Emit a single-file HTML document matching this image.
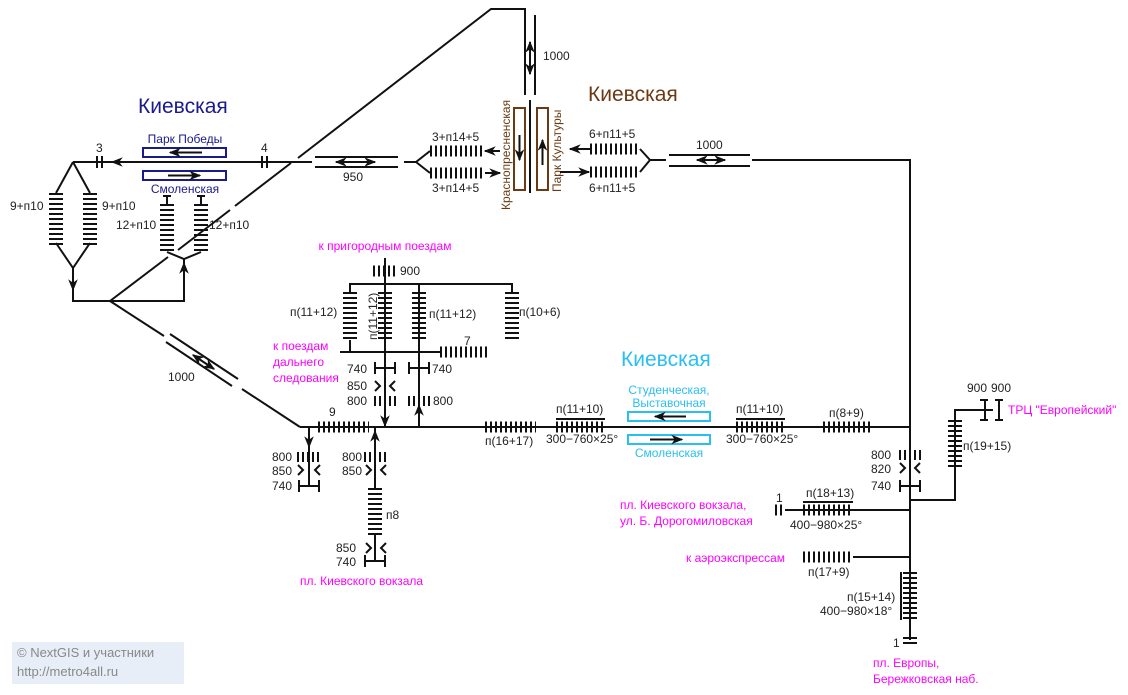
<!DOCTYPE html>
<html><head><meta charset="utf-8"><style>
body{margin:0;background:#fff}
svg{display:block}
text{font-family:"Liberation Sans","DejaVu Sans",sans-serif;font-size:12px;fill:#222}
.m{fill:#f0f}
.l{stroke:#111;stroke-width:2;fill:none}
.h{stroke:#111;stroke-width:11;stroke-dasharray:2 3;fill:none}
.v{stroke:#111;stroke-width:14;stroke-dasharray:2 3;fill:none}
</style></head><body>
<svg width="1128" height="695" viewBox="0 0 1128 695">
<defs>
<marker id="a" viewBox="0 0 10 10" refX="9" refY="5" markerWidth="6" markerHeight="6" orient="auto-start-reverse"><path d="M0,1 L10,5 L0,9 L3,5z" fill="#111"/></marker>
</defs>
<rect x="12" y="642" width="172" height="42" fill="#e8eef8"/>
<text x="17" y="657" style="fill:#888;font-size:13px">© NextGIS и участники</text>
<text x="17" y="676" style="fill:#888;font-size:13px">http://metro4all.ru</text>

<text x="138" y="113" style="font-size:21px;fill:#1a1a8c">Киевская</text>
<text x="588" y="101" style="font-size:21px;fill:#6b3a14">Киевская</text>
<text x="621" y="366" style="font-size:21px;fill:#29bff0">Киевская</text>

<line class="l" x1="73" y1="162" x2="298" y2="162"/>
<line class="l" x1="160" y1="162" x2="112" y2="162" marker-end="url(#a)"/>
<path class="l" d="M97,156v12M102,156v12M262,156v12M267,156v12"/>
<text x="96" y="152">3</text><text x="261" y="152">4</text>
<rect x="143" y="148" width="83" height="9" fill="none" stroke="#1a1a8c" stroke-width="2"/>
<rect x="143" y="171" width="83" height="9" fill="none" stroke="#1a1a8c" stroke-width="2"/>
<line class="l" x1="202" y1="152.5" x2="170" y2="152.5" marker-end="url(#a)"/>
<line class="l" x1="168" y1="175.5" x2="200" y2="175.5" marker-end="url(#a)"/>
<text x="185" y="143" text-anchor="middle" style="fill:#1a1a8c">Парк Победы</text>
<text x="185" y="193" text-anchor="middle" style="fill:#1a1a8c">Смоленская</text>

<path class="l" d="M73,162 L56,193 M73,162 L90,193 M56,243 L73,268 L90,243 M73,268 V301 H184 V259"/>
<line class="l" x1="73" y1="270" x2="73" y2="290" marker-end="url(#a)"/>
<line class="v" x1="56" y1="193" x2="56" y2="245"/>
<line class="v" x1="90" y1="193" x2="90" y2="245"/>
<text x="10" y="210">9+п10</text><text x="102" y="210">9+п10</text>
<path class="l" d="M163,196h8M167,196v8M197,196h8M201,196v8M167,252 L184,259 L201,252"/>
<line class="v" x1="167" y1="204" x2="167" y2="253"/>
<line class="v" x1="201" y1="204" x2="201" y2="253"/>
<line class="l" x1="184" y1="298" x2="184" y2="263" marker-end="url(#a)"/>
<text x="116" y="229">12+п10</text><text x="209" y="229">12+п10</text>
<path class="l" d="M110,301 L168,257 M178,250 L230,210 M235,206 L291,163 M298,158 L491,9 H525 V15"/>
<path class="l" d="M110,301 L164,336 M170,334 L238,379 M166,342 L232,386 M242,389 L300,427"/>
<path d="M193,355 L214,369" stroke="#111" stroke-width="2" marker-end="url(#a)" marker-start="url(#a)"/>
<text x="168" y="381">1000</text>
<path class="l" d="M298,162 H312 M315,157 H398 M315,167 H398 M404,162 H416 L430,151 M416,162 L430,173"/>
<path d="M336,162 L375,162" stroke="#111" stroke-width="2" marker-end="url(#a)" marker-start="url(#a)"/>
<text x="343" y="181">950</text>
<line class="h" x1="430" y1="151" x2="484" y2="151"/>
<line class="h" x1="430" y1="173" x2="484" y2="173"/>
<line class="l" x1="500" y1="151" x2="485" y2="151" marker-end="url(#a)"/>
<line class="l" x1="485" y1="173" x2="500" y2="173" marker-end="url(#a)"/>
<text x="432" y="141">3+п14+5</text><text x="432" y="192">3+п14+5</text>
<path class="l" d="M525,15 V95 M535,15 V95 M530,100 V193"/>
<path d="M530,42 L530,74" stroke="#111" stroke-width="2" marker-end="url(#a)" marker-start="url(#a)"/>
<text x="543" y="60">1000</text>
<rect x="514" y="108" width="11" height="82" fill="none" stroke="#6b3a14" stroke-width="2"/>
<rect x="537" y="108" width="11" height="82" fill="none" stroke="#6b3a14" stroke-width="2"/>
<line class="l" x1="519.5" y1="135" x2="519.5" y2="160" marker-end="url(#a)"/>
<line class="l" x1="542.5" y1="165" x2="542.5" y2="140" marker-end="url(#a)"/>
<text transform="translate(510,210) rotate(-90)" style="fill:#6b3a14">Краснопресненская</text>
<text transform="translate(561,192) rotate(-90)" style="fill:#6b3a14">Парк Культуры</text>
<line class="l" x1="590" y1="149" x2="570" y2="149" marker-end="url(#a)"/>
<line class="l" x1="560" y1="172" x2="589" y2="172" marker-end="url(#a)"/>
<line class="h" x1="590" y1="149" x2="640" y2="149"/>
<line class="h" x1="590" y1="172" x2="640" y2="172"/>
<path class="l" d="M640,149 L650,160 L640,172 M650,160 H666 M669,155 H750 M669,166 H750 M752,160 H910 V640"/>
<path d="M697,160 L725,160" stroke="#111" stroke-width="2" marker-end="url(#a)" marker-start="url(#a)"/>
<text x="589" y="138">6+п11+5</text><text x="589" y="192">6+п11+5</text>
<text x="696" y="149">1000</text>

<text x="385" y="250" text-anchor="middle" class="m">к пригородным поездам</text>
<line class="l" x1="385" y1="258" x2="385" y2="427"/>
<line class="h" x1="373" y1="271" x2="398" y2="271"/>
<text x="400" y="275">900</text>
<path class="l" d="M350,292 V284 H512 V292 M419,284 V427 M340,352 H440 M350,340 V352"/>
<line class="v" x1="350" y1="292" x2="350" y2="340"/>
<line class="v" x1="385" y1="292" x2="385" y2="340"/>
<line class="v" x1="419" y1="292" x2="419" y2="340"/>
<line class="v" x1="512" y1="292" x2="512" y2="340"/>
<line class="h" x1="440" y1="352" x2="490" y2="352"/>
<text x="290" y="316">п(11+12)</text><text x="429" y="318">п(11+12)</text><text x="519" y="316">п(10+6)</text>
<text transform="translate(377,340) rotate(-90)">п(11+12)</text>
<text x="464" y="345">7</text>
<text x="273" y="350" class="m">к поездам</text><text x="273" y="366" class="m">дальнего</text><text x="273" y="382" class="m">следования</text>
<path class="l" d="M375,362v12M375,368h20M395,362v12M409,362v12M409,368h20M429,362v12"/>
<text x="347" y="373">740</text><text x="432" y="373">740</text>
<path class="l" d="M375,381l5,5l-5,5M395,381l-5,5l5,5"/>
<text x="347" y="390">850</text>
<line class="h" x1="374" y1="401" x2="397" y2="401" style="stroke-width:10"/>
<line class="h" x1="408" y1="401" x2="430" y2="401" style="stroke-width:10"/>
<text x="347" y="405">800</text><text x="433" y="405">800</text>
<line class="l" x1="385" y1="405" x2="385" y2="426" marker-end="url(#a)"/>
<line class="l" x1="419" y1="426" x2="419" y2="405" marker-end="url(#a)"/>

<line class="l" x1="300" y1="427" x2="910" y2="427"/>
<line class="h" x1="318" y1="427" x2="369" y2="427"/>
<text x="329" y="416">9</text>
<line class="h" x1="485" y1="427" x2="536" y2="427"/>
<text x="485" y="445">п(16+17)</text>
<line class="h" x1="556" y1="427" x2="606" y2="427"/>
<line class="l" x1="556" y1="419" x2="605" y2="419"/>
<text x="556" y="413">п(11+10)</text><text x="546" y="443">300−760×25°</text>
<rect x="628" y="412" width="82" height="9" fill="none" stroke="#29bff0" stroke-width="2"/>
<rect x="628" y="435" width="82" height="9" fill="none" stroke="#29bff0" stroke-width="2"/>
<line class="l" x1="686" y1="416.5" x2="655" y2="416.5" marker-end="url(#a)"/>
<line class="l" x1="650" y1="439.5" x2="682" y2="439.5" marker-end="url(#a)"/>
<text x="669" y="394" text-anchor="middle" style="fill:#29bff0">Студенческая,</text>
<text x="669" y="407" text-anchor="middle" style="fill:#29bff0">Выставочная</text>
<text x="669" y="457" text-anchor="middle" style="fill:#29bff0">Смоленская</text>
<line class="h" x1="736" y1="427" x2="786" y2="427"/>
<line class="l" x1="736" y1="419" x2="785" y2="419"/>
<text x="736" y="413">п(11+10)</text><text x="726" y="443">300−760×25°</text>
<line class="h" x1="823" y1="427" x2="873" y2="427"/>
<text x="829" y="417">п(8+9)</text>

<line class="l" x1="309" y1="427" x2="309" y2="486"/>
<line class="l" x1="309" y1="429" x2="309" y2="447" marker-end="url(#a)"/>
<line class="h" x1="297" y1="457" x2="320" y2="457" style="stroke-width:10"/>
<path class="l" d="M298,465l5,5l-5,5M320,465l-5,5l5,5M299,480v12M299,486h20M319,480v12"/>
<text x="272" y="461">800</text><text x="272" y="475">850</text><text x="272" y="490">740</text>
<line class="l" x1="375" y1="427" x2="375" y2="488"/>
<line class="l" x1="375" y1="488" x2="375" y2="431" marker-end="url(#a)"/>
<line class="h" x1="364" y1="457" x2="387" y2="457" style="stroke-width:10"/>
<path class="l" d="M366,465l5,5l-5,5M386,465l-5,5l5,5"/>
<text x="342" y="461">800</text><text x="342" y="475">850</text>
<line class="v" x1="375" y1="488" x2="375" y2="535"/>
<text x="386" y="519">п8</text>
<path class="l" d="M375,535V561M366,543l5,5l-5,5M386,543l-5,5l5,5M365,555v12M365,561h20M385,555v12"/>
<text x="336" y="552">850</text><text x="336" y="566">740</text>
<text x="300" y="585" class="m">пл. Киевского вокзала</text>

<line class="h" x1="899" y1="455" x2="921" y2="455" style="stroke-width:10"/>
<path class="l" d="M900,463l5,5l-5,5M920,463l-5,5l5,5M900,480v12M900,486h20M920,480v12"/>
<text x="871" y="459">800</text><text x="871" y="473">820</text><text x="871" y="490">740</text>
<path class="l" d="M910,500 H955 V410 H993 M980,400h8M985,400v20M980,420h8M995,400h8M999,400v20M995,420h8"/>
<line class="v" x1="955" y1="420" x2="955" y2="470"/>
<text x="963" y="450">п(19+15)</text>
<text x="967" y="392">900</text><text x="991" y="392">900</text>
<text x="1008" y="414" class="m">ТРЦ "Европейский"</text>
<line class="l" x1="785" y1="510" x2="910" y2="510"/>
<line class="h" x1="775" y1="510" x2="785" y2="510"/>
<line class="h" x1="803" y1="510" x2="853" y2="510"/>
<line class="l" x1="803" y1="502" x2="853" y2="502"/>
<text x="776" y="502">1</text><text x="806" y="497">п(18+13)</text><text x="790" y="529">400−980×25°</text>
<text x="620" y="509" class="m">пл. Киевского вокзала,</text>
<text x="620" y="525" class="m">ул. Б. Дорогомиловская</text>
<line class="l" x1="853" y1="557" x2="910" y2="557"/>
<line class="h" x1="803" y1="557" x2="853" y2="557"/>
<text x="686" y="562" class="m">к аэроэкспрессам</text>
<text x="808" y="576">п(17+9)</text>
<line class="v" x1="910" y1="572" x2="910" y2="620"/>
<line class="l" x1="901" y1="572" x2="901" y2="620"/>
<text x="847" y="601">п(15+14)</text><text x="820" y="615">400−980×18°</text>
<line class="v" x1="910" y1="637" x2="910" y2="647"/>
<text x="893" y="647">1</text>
<text x="873" y="667" class="m">пл. Европы,</text>
<text x="873" y="683" class="m">Бережковская наб.</text>
</svg>
</body></html>
